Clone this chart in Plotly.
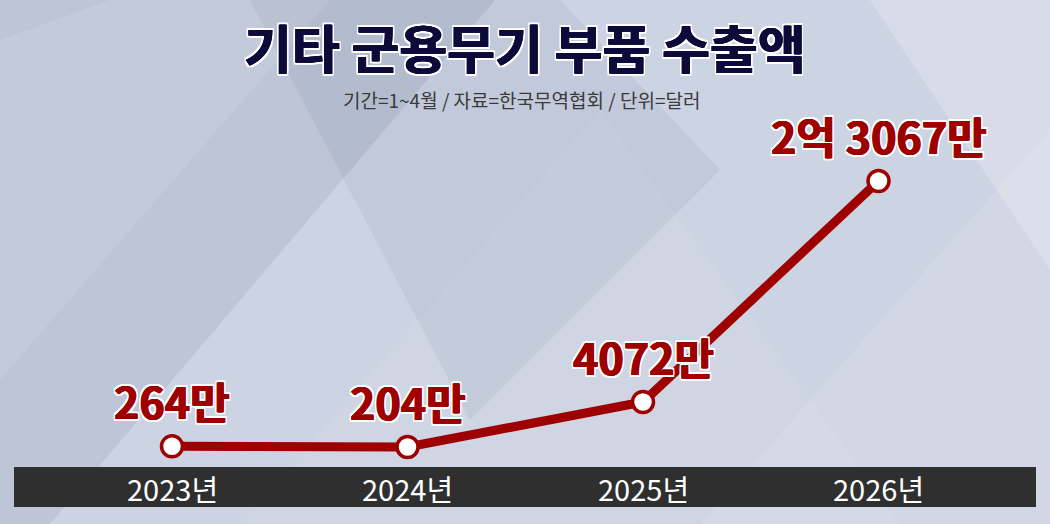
import plotly.graph_objects as go

# 기타 군용무기 부품 수출액 (1~4월, 단위: 만 달러)
years = ["2023년", "2024년", "2025년", "2026년"]
export_man = [264, 204, 4072, 23067]
value_labels = ["264만", "204만", "4072만", "2억 3067만"]

TITLE = "기타 군용무기 부품 수출액"
SUBTITLE = "기간=1~4월 / 자료=한국무역협회 / 단위=달러"

W, H = 1050, 524
RED = "#9e0000"
NAVY = "#0c0a38"
KR = "Noto Sans CJK KR"


def outline(fill, px=2):
    # 같은 색으로 살짝 두껍게 + 흰 테두리
    inner = [f"{dx}px {dy}px 0 {fill}" for dx in (-0.6, 0.6) for dy in (-0.4, 0.4)]
    outer = [f"{dx}px {dy}px 0 white" for dx in (-px, 0, px) for dy in (-px, 0, px) if dx or dy]
    return ", ".join(inner + outer)


def pix_path(points):
    # 픽셀 좌표 -> paper 좌표 경로
    seg = [f"{x / W:.4f},{1 - y / H:.4f}" for x, y in points]
    return "M " + " L ".join(seg) + " Z"


fig = go.Figure()

fig.add_trace(
    go.Scatter(
        x=years,
        y=export_man,
        mode="lines+markers",
        line=dict(color=RED, width=9),
        marker=dict(size=21, color="white", line=dict(color=RED, width=3.5)),
        hoverinfo="skip",
        cliponaxis=False,
    )
)

# 배경 도형 (대각선 면)
bg_shapes = [
    ([(0, 0), (495, 0), (50, 524), (0, 524)], "rgba(110,125,155,0.16)"),
    ([(0, 40), (110, 0), (330, 0), (0, 380)], "rgba(255,255,255,0.10)"),
    ([(250, 0), (560, 0), (720, 170), (470, 420)], "rgba(100,115,145,0.10)"),
    ([(870, 0), (1050, 0), (1050, 270)], "rgba(255,255,255,0.22)"),
    ([(700, 524), (1050, 130), (1050, 524)], "rgba(255,255,255,0.10)"),
    ([(240, 524), (600, 110), (900, 524)], "rgba(255,255,255,0.06)"),
]
shapes = [
    dict(type="path", path=pix_path(pts), xref="paper", yref="paper", fillcolor=col,
         line=dict(width=0), layer="below")
    for pts, col in bg_shapes
]

# 하단 연도 띠
shapes.append(
    dict(type="rect", xref="paper", yref="paper", x0=14 / W, x1=1036 / W,
         y0=1 - 507 / H, y1=1 - 467 / H, fillcolor="#2f2f2f",
         line=dict(width=0), layer="below")
)

annotations = [
    dict(text=f"<b>{TITLE}</b>", x=0.5, y=1 - 47 / H, xref="paper", yref="paper",
         yanchor="middle", showarrow=False,
         font=dict(family=KR, size=52, color=NAVY, shadow=outline(NAVY))),
    dict(text=SUBTITLE, x=0.497, y=1 - 99 / H, xref="paper", yref="paper",
         yanchor="middle", showarrow=False,
         font=dict(family=KR, size=19, color="#3a3a3a")),
]
for yr, val, lab in zip(years, export_man, value_labels):
    annotations.append(
        dict(text=f"<b>{lab}</b>", x=yr, y=val, xref="x", yref="y", yanchor="middle",
             yshift=46, showarrow=False,
             font=dict(family=KR, size=43, color=RED, shadow=outline(RED)))
    )
    annotations.append(
        dict(text=yr, x=yr, y=1 - 488 / H, xref="x", yref="paper", yanchor="middle",
             showarrow=False, font=dict(family=KR, size=29, color="white"))
    )

fig.update_layout(
    width=W,
    height=H,
    margin=dict(l=0, r=0, t=0, b=0),
    paper_bgcolor="#ccd3e2",
    plot_bgcolor="rgba(0,0,0,0)",
    showlegend=False,
    shapes=shapes,
    annotations=annotations,
    xaxis=dict(visible=False, range=[-0.7304, 3.7282]),
    yaxis=dict(visible=False, range=[-6414, 38623]),
)

fig.write_html(
    "out.html",
    config={"displayModeBar": False},
    post_script="document.body.style.margin='0';",
)
